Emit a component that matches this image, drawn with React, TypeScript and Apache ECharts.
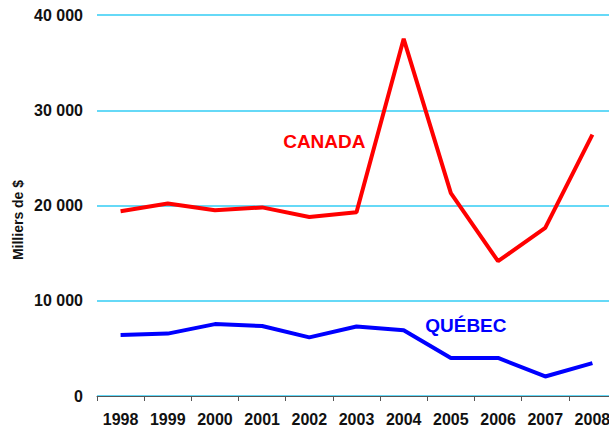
import React, { useEffect, useRef } from "react";
import * as echarts from "echarts";

const years = ["1998", "1999", "2000", "2001", "2002", "2003", "2004", "2005", "2006", "2007", "2008"];
const canada = [19400, 20200, 19500, 19800, 18800, 19300, 37500, 21300, 14150, 17650, 27450];
const quebec = [6400, 6550, 7550, 7350, 6150, 7300, 6900, 4000, 4000, 2050, 3450];
const yTicks = { min: 0, max: 40000, interval: 10000 };
const yAxisTitle = "Milliers de $";
const seriesLabels = ["CANADA", "QUÉBEC"];

const FONT = "'Liberation Sans', Arial, sans-serif";

export default function App() {
  const ref = useRef<HTMLDivElement>(null);
  useEffect(() => {
    if (!ref.current) return;
    const chart = echarts.init(ref.current, undefined, { renderer: "svg" });
    chart.setOption({
      animation: false,
      backgroundColor: "#ffffff",
      grid: { left: 97, right: 0, top: 15, height: 381, containLabel: false },
      xAxis: {
        type: "category",
        data: years,
        boundaryGap: true,
        axisLine: { show: true, lineStyle: { color: "#555555", width: 1 } },
        axisTick: { show: true, length: 5, lineStyle: { color: "#555555" } },
        axisLabel: { color: "#111111", fontFamily: FONT, fontWeight: "bold", fontSize: 16, margin: 15 },
        splitLine: { show: false },
      },
      yAxis: {
        type: "value",
        min: yTicks.min,
        max: yTicks.max,
        interval: yTicks.interval,
        axisLine: { show: false },
        axisTick: { show: false },
        axisLabel: {
          color: "#111111",
          fontFamily: FONT,
          fontWeight: "bold",
          fontSize: 16,
          margin: 14,
          formatter: (v: number) => String(v).replace(/\B(?=(\d{3})+(?!\d))/g, " "),
        },
        splitLine: { show: true, lineStyle: { color: "#33ccf5", width: 1.5 } },
      },
      graphic: [
        {
          type: "text",
          x: 18,
          y: 220,
          rotation: Math.PI / 2,
          style: {
            text: yAxisTitle,
            fill: "#111111",
            font: `bold 14px ${FONT}`,
            align: "center",
            verticalAlign: "middle",
          },
        },
      ],
      series: [
        {
          type: "line",
          name: seriesLabels[0],
          data: canada,
          symbol: "none",
          lineStyle: { color: "#ff0000", width: 4 },
          itemStyle: { color: "#ff0000" },
          markPoint: {
            symbol: "rect",
            symbolSize: 0,
            data: [{ coord: ["2002", 26750], value: seriesLabels[0] }],
            label: {
              show: true,
              formatter: seriesLabels[0],
              color: "#ff0000",
              fontFamily: FONT,
              fontWeight: "bold",
              fontSize: 19,
              position: "inside",
              offset: [15, 0],
            },
          },
        },
        {
          type: "line",
          name: seriesLabels[1],
          data: quebec,
          symbol: "none",
          lineStyle: { color: "#0000ff", width: 4 },
          itemStyle: { color: "#0000ff" },
          markPoint: {
            symbol: "rect",
            symbolSize: 0,
            data: [{ coord: ["2005", 7450], value: seriesLabels[1] }],
            label: {
              show: true,
              formatter: seriesLabels[1],
              color: "#0000ff",
              fontFamily: FONT,
              fontWeight: "bold",
              fontSize: 19,
              position: "inside",
              offset: [15, 0],
            },
          },
        },
      ],
    });
    return () => chart.dispose();
  }, []);
  return (
    <div style={{ position: "absolute", left: 0, top: 0, width: 609, height: 431, overflow: "hidden", background: "#fff" }}>
      <div ref={ref} style={{ width: 616, height: 431 }} />
    </div>
  );
}
